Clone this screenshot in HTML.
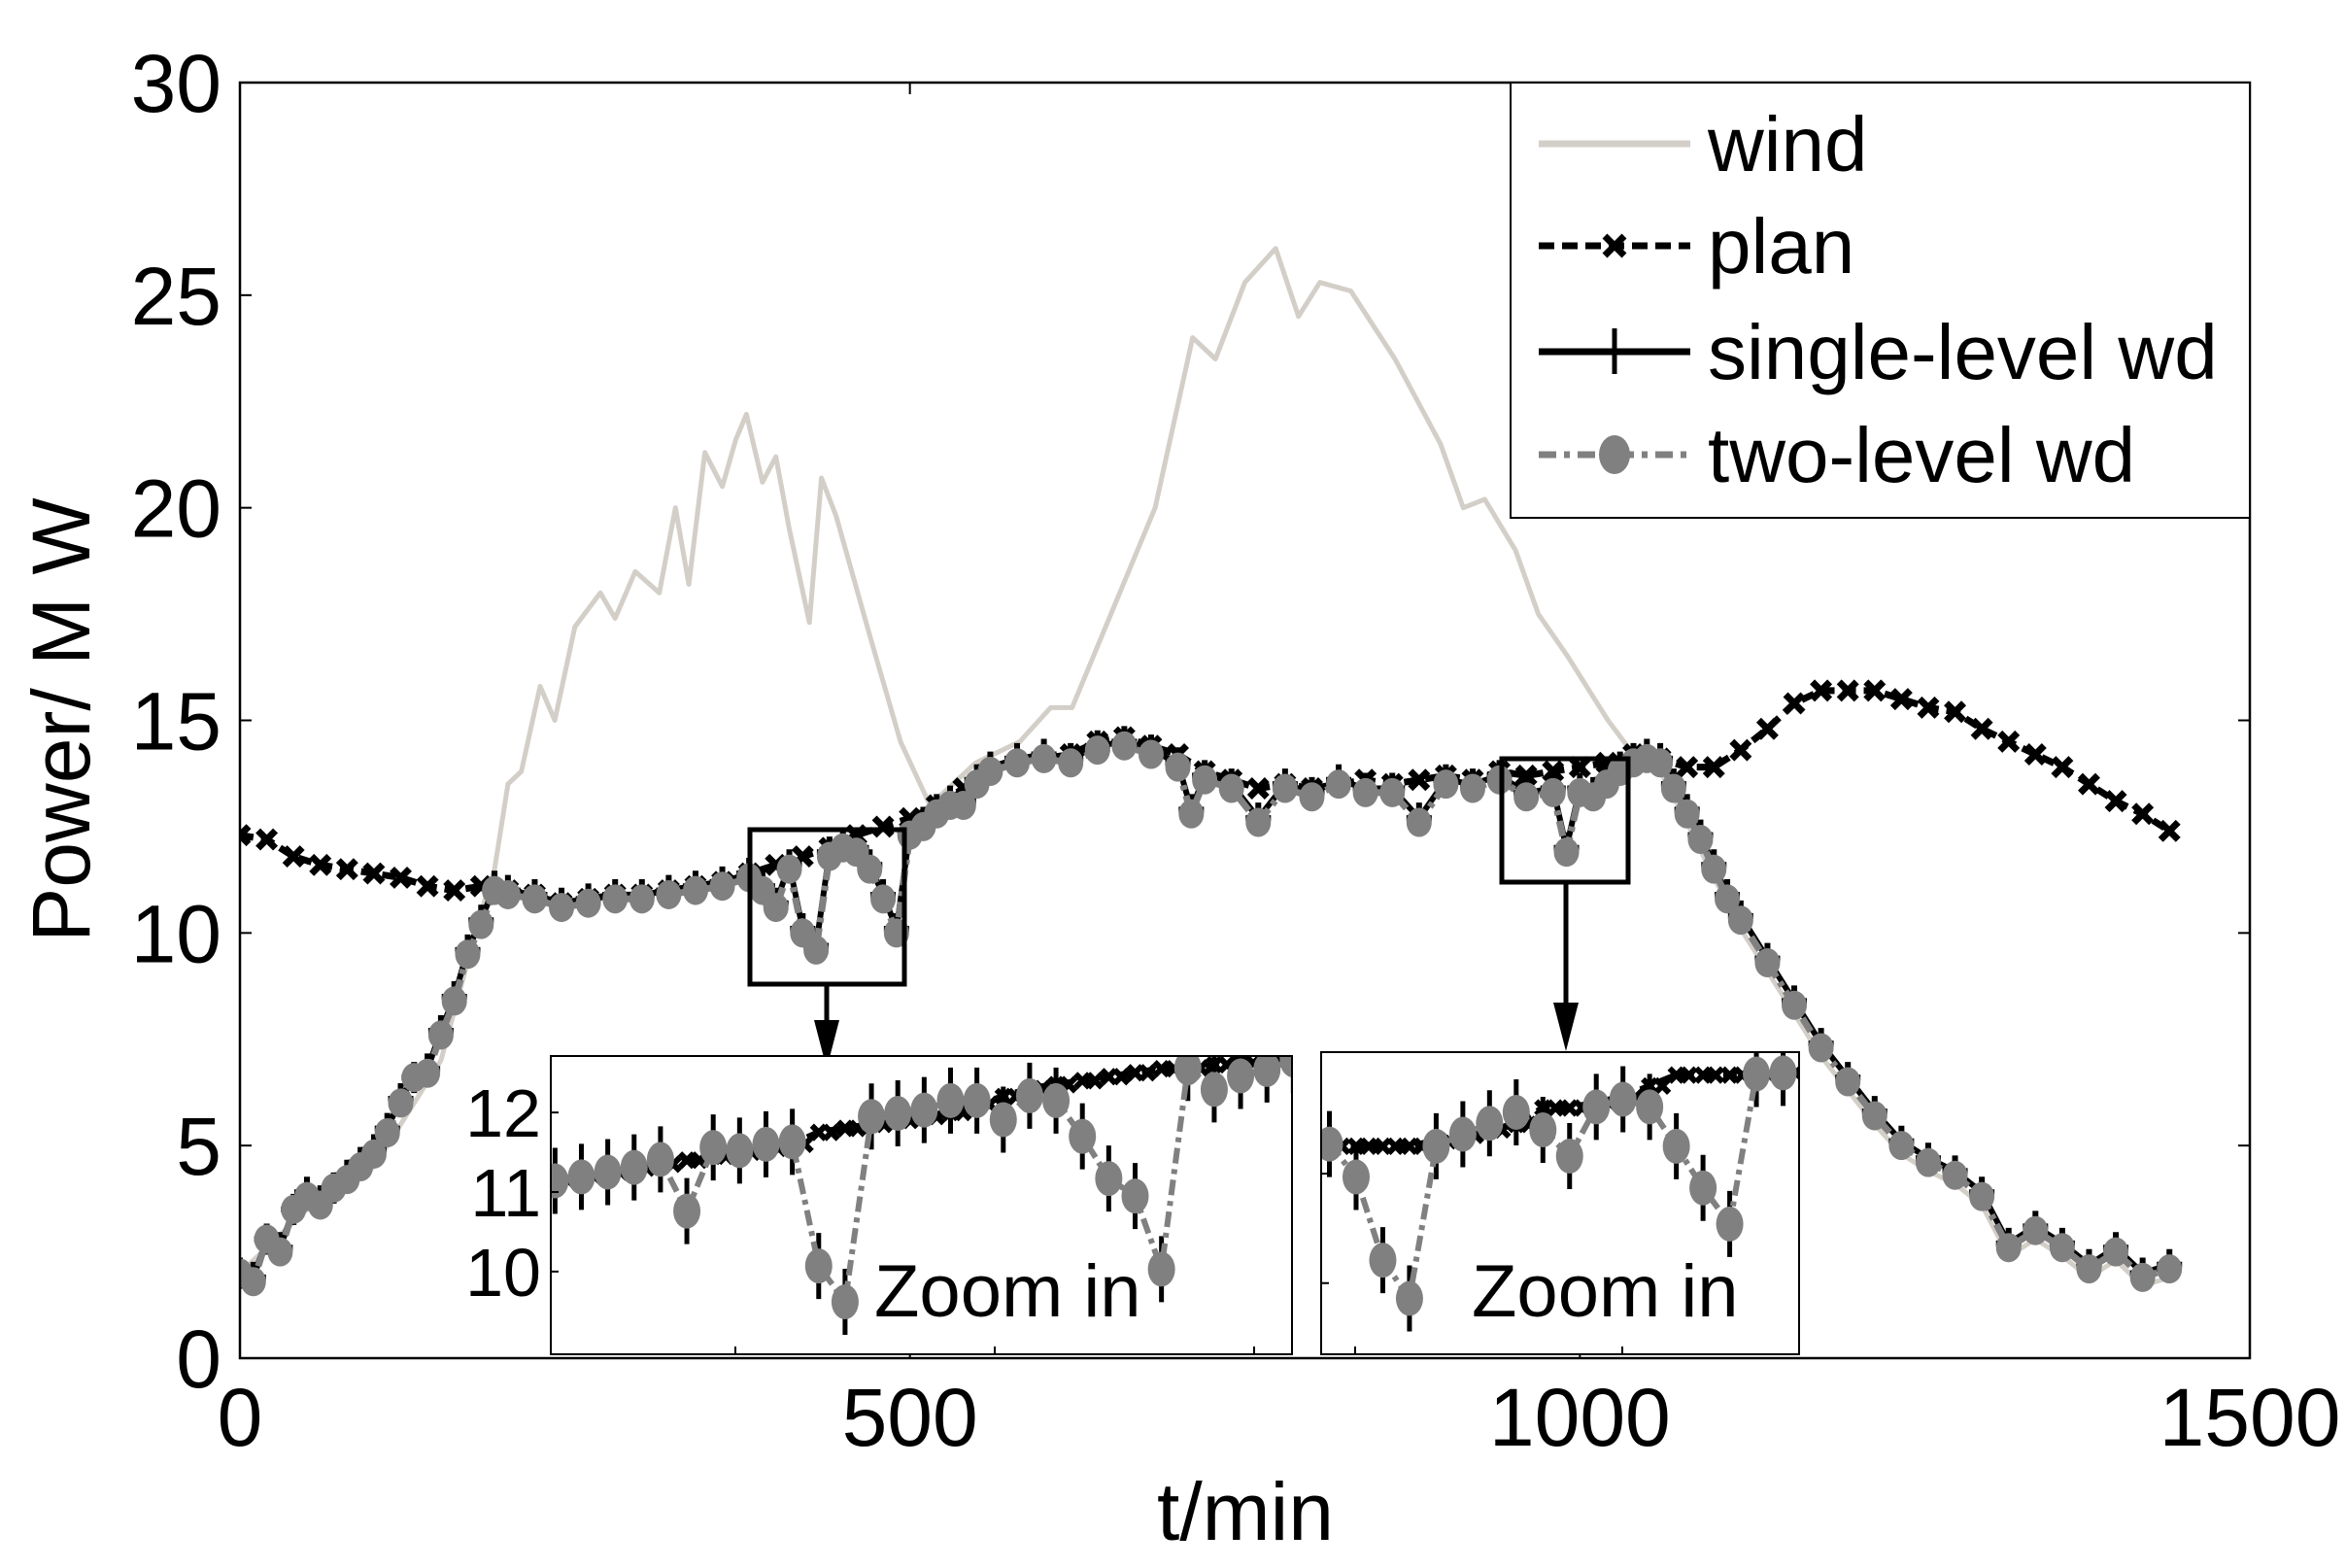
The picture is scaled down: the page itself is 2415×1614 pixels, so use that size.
<!DOCTYPE html>
<html><head><meta charset="utf-8"><style>
html,body{margin:0;padding:0;background:#fff}
svg{display:block}
text{font-family:"Liberation Sans",Arial,sans-serif}
</style></head><body>
<svg id="chart" width="2415" height="1614" viewBox="0 0 2415 1614" xmlns="http://www.w3.org/2000/svg">
<defs>
<clipPath id="mainClip"><rect x="247" y="85" width="2069" height="1313"/></clipPath>
<clipPath id="in1Clip"><rect x="567" y="1087" width="763" height="307"/></clipPath>
<clipPath id="in2Clip"><rect x="1360" y="1083" width="492" height="311"/></clipPath>
</defs>
<g id="main"></g>
<g id="inset1"></g>
<g id="inset2"></g>
<g id="legend"></g>
</svg>
<script>
// ---- main chart data ----
const xTicks = [0, 500, 1000, 1500];
const yTicks = [0, 5, 10, 15, 20, 25, 30];
const windT = [0,50,100,150,180,190,200,210,224,235,250,269,280,295,313,325,335,347,360,370,378,390,400,410,425,434,445,470,493,515,549,582,605,621,650,683,711,728,750,773,790,806,829,862,896,913,929,952,969,991,1021,1040,1060,1080,1100,1120,1140,1160,1180,1200,1220,1240,1260,1280,1300,1320,1340,1360,1380,1400,1420,1440];
const windV = [2,3.5,4.5,7,10.5,11.5,13.5,13.8,15.8,15,17.2,18,17.4,18.5,18,20,18.2,21.3,20.5,21.6,22.2,20.6,21.2,19.5,17.3,20.7,19.8,17,14.5,13,14,14.5,15.3,15.3,17.5,20,24,23.5,25.3,26.1,24.5,25.3,25.1,23.5,21.5,20,20.2,19,17.5,16.5,15,14.2,13.8,12.6,11.3,10.1,9.1,8.1,7.1,6.3,5.5,4.8,4.4,4.1,3.6,2.4,2.8,2.4,1.9,2.3,1.7,1.9];
const planT = [0,20,40,60,80,100,120,140,160,180,200,220,240,260,280,300,320,340,360,380,400,420,440,460,480,500,520,540,560,580,600,620,640,660,680,700,720,740,760,780,800,820,840,860,880,900,920,940,960,980,1000,1020,1040,1060,1080,1100,1120,1140,1160,1180,1200,1220,1240,1260,1280,1300,1320,1340,1360,1380,1400,1420,1440];
const planV = [12.3,12.2,11.8,11.6,11.5,11.4,11.3,11.1,11.0,11.1,11.0,10.9,10.7,10.8,10.9,10.9,11.0,11.1,11.2,11.4,11.6,11.8,12.0,12.3,12.5,12.7,13.0,13.4,13.8,14.0,14.1,14.2,14.5,14.6,14.4,14.2,13.8,13.6,13.4,13.5,13.4,13.5,13.6,13.5,13.6,13.7,13.6,13.8,13.7,13.8,13.9,14.0,14.2,14.1,13.9,13.9,14.3,14.8,15.4,15.7,15.7,15.7,15.5,15.3,15.2,14.8,14.5,14.2,13.9,13.5,13.1,12.8,12.4];
const twoT = [0,10,20,30,40,50,60,70,80,90,100,110,120,130,140,150,160,170,180,190,200,220,240,260,280,300,320,340,360,380,390,400,410,420,430,440,450,460,470,480,490,500,510,520,530,540,550,560,580,600,620,640,660,680,700,710,720,740,760,780,800,820,840,860,880,900,920,940,960,980,990,1000,1010,1020,1030,1040,1050,1060,1070,1080,1090,1100,1110,1120,1140,1160,1180,1200,1220,1240,1260,1280,1300,1320,1340,1360,1380,1400,1420,1440];
const twoV = [2.0,1.8,2.8,2.5,3.5,3.8,3.6,4.0,4.2,4.5,4.8,5.3,6.0,6.6,6.7,7.6,8.4,9.5,10.2,11.0,10.9,10.8,10.6,10.7,10.8,10.8,10.9,11.0,11.1,11.3,11.0,10.6,11.5,10.0,9.6,11.8,12.0,11.9,11.5,10.8,10.0,12.3,12.5,12.8,13.0,13.0,13.5,13.8,14.0,14.1,14.0,14.3,14.4,14.2,13.9,12.8,13.6,13.4,12.6,13.4,13.2,13.5,13.3,13.3,12.6,13.5,13.4,13.6,13.2,13.3,11.9,13.3,13.2,13.5,13.8,14.0,14.1,14.0,13.4,12.8,12.2,11.5,10.8,10.3,9.3,8.3,7.3,6.5,5.7,5.0,4.6,4.3,3.8,2.6,3.0,2.6,2.1,2.5,1.9,2.1];
const singleV = [2.0,1.9,2.8,2.6,3.5,3.9,3.7,4.0,4.3,4.6,4.9,5.4,6.1,6.6,6.8,7.7,8.5,9.6,10.3,11.1,11.0,10.9,10.7,10.8,10.9,10.9,11.0,11.1,11.2,11.4,11.1,10.7,11.6,10.1,9.7,11.9,12.1,12.0,11.6,10.9,10.1,12.4,12.6,12.9,13.1,13.1,13.6,13.9,14.1,14.2,14.1,14.4,14.5,14.3,14.0,12.9,13.7,13.5,12.7,13.5,13.3,13.6,13.4,13.4,12.7,13.6,13.5,13.7,13.3,13.4,12.0,13.4,13.3,13.6,13.9,14.1,14.2,14.1,13.5,12.9,12.3,11.6,10.9,10.4,9.4,8.4,7.4,6.6,5.8,5.1,4.7,4.4,3.9,2.7,3.1,2.7,2.2,2.6,2.0,2.2];
// ---- inset 1 data (index-based) ----
const in1Ticks = [10, 11, 12];
const in1Two = [11.14,11.19,11.25,11.31,11.41,10.76,11.56,11.52,11.60,11.63,10.07,9.62,11.95,11.99,12.03,12.15,12.15,11.91,12.21,12.15,11.70,11.17,10.95,10.03,12.56,12.29,12.46,12.54,12.66];
const in1Plan = [11.15,11.2,11.25,11.3,11.35,11.4,11.45,11.5,11.55,11.6,11.75,11.8,11.85,11.9,11.95,12.0,12.1,12.2,12.3,12.35,12.4,12.45,12.5,12.55,12.56,12.6,12.62,12.64,12.66];
// ---- inset 2 data (index-based) ----
const in2Two = [14.27,13.97,13.21,12.86,14.25,14.36,14.46,14.56,14.40,14.16,14.61,14.68,14.61,14.25,13.87,13.54,14.91,14.92];
const in2Plan = [14.25,14.25,14.25,14.25,14.3,14.35,14.4,14.45,14.6,14.6,14.65,14.7,14.8,14.9,14.9,14.9,14.9,14.92];

const NS = "http://www.w3.org/2000/svg";
function mk(parent, tag, attrs){const e=document.createElementNS(NS,tag);for(const k in attrs)e.setAttribute(k,attrs[k]);parent.appendChild(e);return e;}

const PL=247, PR=2316, PT=85, PB=1398;
const xS = t => PL + (t-0)/(1500-0)*(PR-PL);
const yS = v => PB - v/30*(PB-PT);
const main = document.getElementById('main');
const mainData = mk(main,'g',{'clip-path':'url(#mainClip)'});

function polyline(g, xs, ys, style){
  const pts = xs.map((x,i)=>x.toFixed(1)+','+ys[i].toFixed(1)).join(' ');
  return mk(g,'polyline',Object.assign({points:pts,fill:'none'},style));
}
const wl = polyline(mainData, windT.map(xS), windV.map(yS), {stroke:'#d3cfc8','stroke-width':5,'stroke-linejoin':'round'});


const pl = polyline(mainData, planT.map(xS), planV.map(yS), {stroke:'#000','stroke-width':7,'stroke-dasharray':'14 8'});


function xMark(g,x,y,s,w){mk(g,'path',{d:`M${x-s},${y-s}L${x+s},${y+s}M${x-s},${y+s}L${x+s},${y-s}`,stroke:'#000','stroke-width':w});}
planT.forEach((t,i)=>{xMark(mainData,xS(t),yS(planV[i]),9,7);});
const sl = polyline(mainData, twoT.map(xS), singleV.map(yS), {stroke:'#000','stroke-width':6});


twoT.forEach((t,i)=>{const x=xS(t),y=yS(singleV[i]);mk(mainData,'path',{d:`M${x-13},${y}L${x+13},${y}M${x},${y-16}L${x},${y+16}`,stroke:'#000','stroke-width':6});});
const tl = polyline(mainData, twoT.map(xS), twoV.map(yS), {stroke:'#808080','stroke-width':7,'stroke-dasharray':'16 6 5 6'});


twoT.forEach((t,i)=>{mk(mainData,'ellipse',{cx:xS(t),cy:yS(twoV[i]),rx:13,ry:15,fill:'#808080'});});

mk(main,'rect',{x:PL,y:PT,width:PR-PL,height:PB-PT,fill:'none',stroke:'#000','stroke-width':2.5});
yTicks.forEach(v=>{
  const y=yS(v);
  mk(main,'line',{x1:PL,y1:y,x2:PL+12,y2:y,stroke:'#000','stroke-width':2});
  mk(main,'line',{x1:PR,y1:y,x2:PR-12,y2:y,stroke:'#000','stroke-width':2});
  const t=mk(main,'text',{x:228,y:y+30,'text-anchor':'end','font-size':84});
  t.textContent=v;
  
  
});
xTicks.forEach(v=>{
  const x=xS(v);
  mk(main,'line',{x1:x,y1:PB,x2:x,y2:PB-12,stroke:'#000','stroke-width':2});
  mk(main,'line',{x1:x,y1:PT,x2:x,y2:PT+12,stroke:'#000','stroke-width':2});
  const t=mk(main,'text',{x:x,y:1488,'text-anchor':'middle','font-size':84});
  t.textContent=v;
  
  
});
const xl=mk(main,'text',{x:1282,y:1585,'text-anchor':'middle','font-size':84});
xl.textContent='t/min';


const yl=mk(main,'text',{x:0,y:0,'text-anchor':'middle','font-size':84,transform:'translate(92,741) rotate(-90)'});
yl.textContent='Power/ M W';



const b1=mk(main,'rect',{x:772,y:854,width:159,height:159,fill:'none',stroke:'#000','stroke-width':5});


const b2=mk(main,'rect',{x:1546,y:781,width:130,height:127,fill:'none',stroke:'#000','stroke-width':5});


function arrow(x,y1,y2,name){
  const g=mk(main,'g',{});
  
  
  mk(g,'line',{x1:x,y1:y1,x2:x,y2:y2-40,stroke:'#000','stroke-width':5});
  mk(g,'path',{d:`M${x-13},${y2-50}L${x+13},${y2-50}L${x},${y2}Z`,fill:'#000'});
}
arrow(851,1013,1100,'arrow-1');
arrow(1612,908,1082,'arrow-2');

function drawInset(gid, clip, L,R,T,B, xmin,xmax, ymin,ymax, two, plan, ticks, labels, bticks, textX, name){
  const g=document.getElementById(gid);
  mk(g,'rect',{x:L,y:T,width:R-L,height:B-T,fill:'#fff',stroke:'none'});
  const xs=i=>L+(i-xmin)/(xmax-xmin)*(R-L);
  const ys=v=>B-(v-ymin)/(ymax-ymin)*(B-T);
  const d=mk(g,'g',{'clip-path':`url(#${clip})`});
  const idx=two.map((_,i)=>i);
  polyline(d, idx.map(xs), plan.map(ys), {stroke:'#000','stroke-width':7,'stroke-dasharray':'14 8'});
  idx.forEach(i=>{xMark(d,xs(i)+13,ys(plan[i]),7,6);xMark(d,xs(i),ys(plan[i]),7,6);});
  idx.forEach(i=>{const x=xs(i),y=ys(two[i]);mk(d,'path',{d:`M${x},${y-34}L${x},${y+34}`,stroke:'#000','stroke-width':5});});
  polyline(d, idx.map(xs), two.map(ys), {stroke:'#808080','stroke-width':6,'stroke-dasharray':'16 6 5 6'});
  idx.forEach(i=>{mk(d,'ellipse',{cx:xs(i),cy:ys(two[i]),rx:14,ry:18,fill:'#808080'});});
  mk(g,'rect',{x:L,y:T,width:R-L,height:B-T,fill:'none',stroke:'#000','stroke-width':2});
  ticks.forEach(v=>{mk(g,'line',{x1:L,y1:ys(v),x2:L+8,y2:ys(v),stroke:'#000','stroke-width':2});});
  bticks.forEach(x=>{mk(g,'line',{x1:x,y1:B,x2:x,y2:B-8,stroke:'#000','stroke-width':2});});
  if(labels){ticks.forEach(v=>{const t=mk(g,'text',{x:L-10,y:ys(v)+25,'text-anchor':'end','font-size':70});t.textContent=v;
    
    });}
  const zt=mk(g,'text',{x:textX,y:1355,'font-size':76});
  zt.textContent='Zoom in';
  
  
}
drawInset('inset1','in1Clip',567,1330,1087,1394,-0.16,27.95,8.96,12.71,in1Two,in1Plan,in1Ticks,true,[757,1024,1291],900,'zoom-in-1');
drawInset('inset2','in2Clip',1360,1852,1083,1394,-0.31,17.6,12.35,15.11,in2Two,in2Plan,[13,14],false,[1395,1670],1515,'zoom-in-2');

const lg=document.getElementById('legend');
mk(lg,'rect',{x:1555,y:85,width:761,height:448,fill:'#fff',stroke:'#000','stroke-width':2});
const L1=1584,L2=1740,TX=1758;
const rows=[['wind',148],['plan',253],['single-level wd',362],['two-level wd',468]];
rows.forEach(([lab,y])=>{
  const t=mk(lg,'text',{x:TX,y:y+28,'font-size':80});
  t.textContent=lab;
  
  
});
mk(lg,'line',{x1:L1,y1:148,x2:L2,y2:148,stroke:'#d3cfc8','stroke-width':7});
mk(lg,'line',{x1:L1,y1:253,x2:L2,y2:253,stroke:'#000','stroke-width':7,'stroke-dasharray':'16 8'});
xMark(lg,(L1+L2)/2,253,10,7);
mk(lg,'line',{x1:L1,y1:362,x2:L2,y2:362,stroke:'#000','stroke-width':7});
mk(lg,'line',{x1:(L1+L2)/2,y1:338,x2:(L1+L2)/2,y2:385,stroke:'#000','stroke-width':5});
mk(lg,'line',{x1:L1,y1:468,x2:L2,y2:468,stroke:'#808080','stroke-width':7,'stroke-dasharray':'18 8 6 8'});
mk(lg,'ellipse',{cx:(L1+L2)/2,cy:468,rx:16,ry:20,fill:'#808080'});
</script>
</body></html>
